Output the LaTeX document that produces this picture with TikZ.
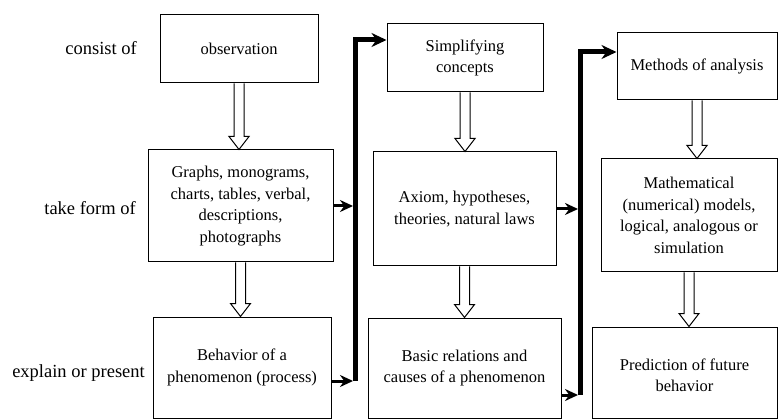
\documentclass[tikz,border=0pt]{standalone}
\usepackage{fontspec}
\setmainfont{Liberation Serif}
\usetikzlibrary{arrows.meta,calc}

\newcommand{\hollowarrow}[2]{%
  \draw[hollow] let \p1 = (#1.south), \p2 = (#2.north) in
    (\x1-5pt,\y1) -- (\x1-5pt,\y2+13pt) -- (\x1-10pt,\y2+13pt) -- (\x1,\y2)
    -- (\x1+10pt,\y2+13pt) -- (\x1+5pt,\y2+13pt) -- (\x1+5pt,\y1);}

\begin{document}
\begin{tikzpicture}[x=1pt, y=-1pt,
    box/.style = {draw, line width=1pt, align=center, inner sep=0pt, font=\fontsize{16.5}{21.5}\selectfont},
    lbl/.style = {anchor=east, inner sep=0pt, font=\fontsize{18.5}{22}\selectfont},
    feed/.style = {line width=3pt, shorten >=2pt, -{Stealth[length=13pt,width=12pt]}},
    bus/.style = {line width=5pt, line join=miter, -{Stealth[length=15pt,width=14pt]}},
    hollow/.style = {line width=1pt, line join=miter}]
  \useasboundingbox (0,0) rectangle (778,419);
  % row labels
  \node[lbl] (consist)  at (137,48)  {consist of};
  \node[lbl] (takeform) at (136,208) {take form of};
  \node[lbl] (explain)  at (145,373) {explain or present};
  % first column
  \node[box, minimum width=158, minimum height=68]  (obs)    at (239,49)    {observation};
  \node[box, minimum width=185, minimum height=112] (graphs) at (240.5,206) {Graphs, monograms,\\charts, tables, verbal,\\descriptions,\\photographs};
  \node[box, minimum width=178, minimum height=101] (behav)  at (242,367.5) {Behavior of a\\phenomenon (process)};
  % second column
  \node[box, minimum width=156, minimum height=68]  (simp)   at (465,58)    {Simplifying\\concepts};
  \node[box, minimum width=183, minimum height=114] (axiom)  at (464.5,209) {Axiom, hypotheses,\\theories, natural laws};
  \node[box, minimum width=193, minimum height=100] (basic)  at (464.5,368) {Basic relations and\\causes of a phenomenon};
  % third column
  \node[box, minimum width=160, minimum height=67]  (methods) at (697,66.5)  {Methods of analysis};
  \node[box, minimum width=176, minimum height=113] (math)    at (689,215.5) {Mathematical\\(numerical) models,\\logical, analogous or\\simulation};
  \node[box, minimum width=185, minimum height=91]  (predict) at (684.5,372.5) {\\[-4pt]Prediction of future\\behavior};
  % hollow arrows
  \hollowarrow{obs}{graphs}
  \hollowarrow{graphs}{behav}
  \hollowarrow{simp}{axiom}
  \hollowarrow{axiom}{basic}
  \hollowarrow{methods}{math}
  \hollowarrow{math}{predict}
  % thick feed lines
  \coordinate (busA)    at (355,40);
  \coordinate (busAbot) at (355,381);
  \coordinate (busB)    at (580,52);
  \coordinate (busBbot) at (580,395);
  \draw[feed] (graphs.east) -- (graphs.east -| busA);
  \draw[feed] (behav.east |- busAbot) -- (busAbot);
  \draw[bus]  (busAbot) -- (busA) -- (simp.west |- busA);
  \draw[feed] (axiom.east) -- (axiom.east -| busB);
  \draw[feed] (basic.east |- busBbot) -- (busBbot);
  \draw[bus]  (busBbot) -- (busB) -- (methods.west |- busB);
\end{tikzpicture}
\end{document}
